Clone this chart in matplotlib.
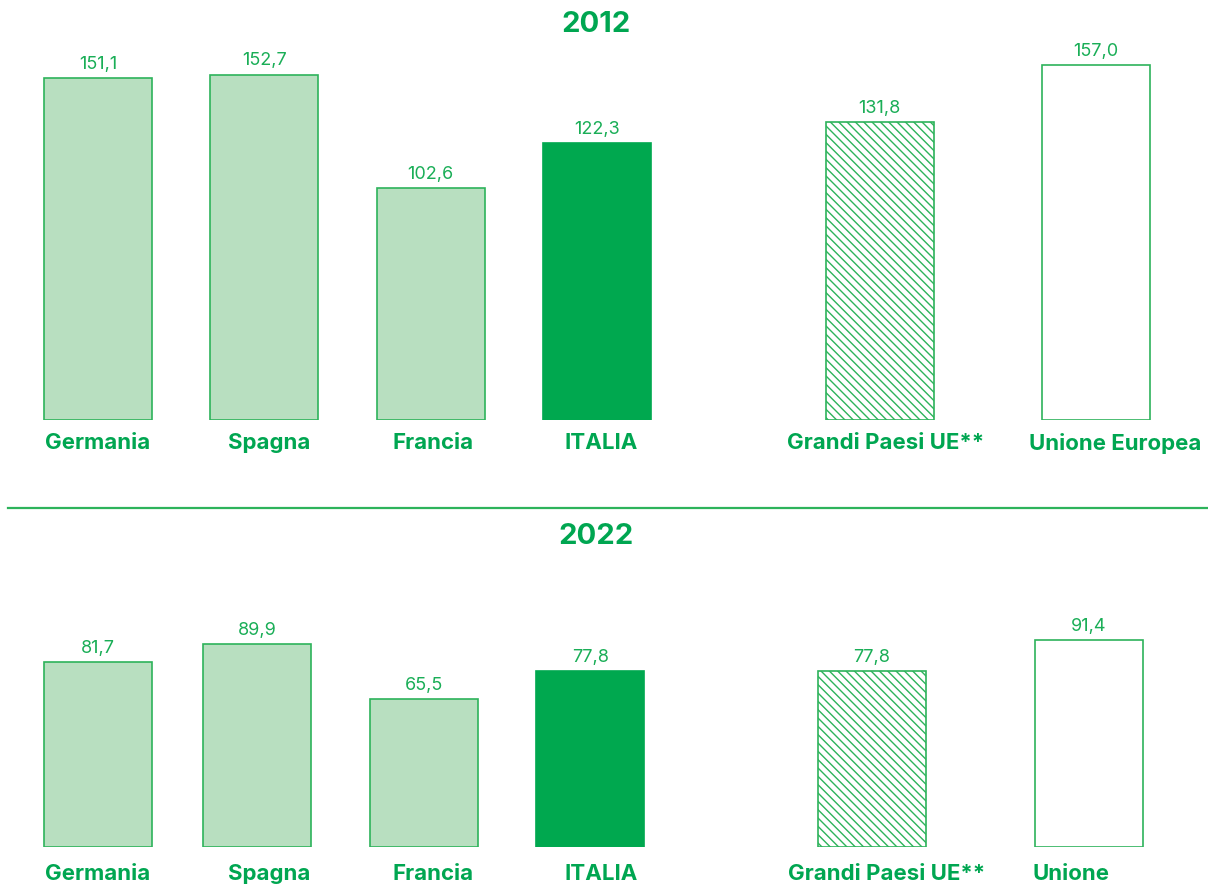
import matplotlib
matplotlib.use("Agg")
import matplotlib.pyplot as plt

# ---- data ----
categories_2012 = ["Germania", "Spagna", "Francia", "ITALIA", "Grandi Paesi UE**", "Unione Europea"]
categories_2022 = ["Germania", "Spagna", "Francia", "ITALIA", "Grandi Paesi UE**", "Unione\nEuropea"]
values_2012 = [151.1, 152.7, 102.6, 122.3, 131.8, 157.0]
values_2022 = [81.7, 89.9, 65.5, 77.8, 77.8, 91.4]
value_labels_2012 = ["151,1", "152,7", "102,6", "122,3", "131,8", "157,0"]
value_labels_2022 = ["81,7", "89,9", "65,5", "77,8", "77,8", "91,4"]
titles = ["2012", "2022"]

# ---- layout / style ----
bar_pos_top = [0, 1, 2, 3, 4.70, 6.0]
bar_pos_bot = [0, 0.956, 1.960, 2.959, 4.654, 5.959]
lab_pos_top = [0, 1.028, 2.014, 3.025, 4.733, 6.115]
lab_pos_bot = [0, 1.028, 2.014, 3.025, 4.739, 5.85]
bar_width = 0.65

DARK = "#00A84F"
LIGHT = "#B8DFC0"
EDGE = "#2DB35B"
TXT = "#00A651"
VAL = "#1AAE57"

styles = [
    dict(facecolor=LIGHT, edgecolor=EDGE, hatch=None),
    dict(facecolor=LIGHT, edgecolor=EDGE, hatch=None),
    dict(facecolor=LIGHT, edgecolor=EDGE, hatch=None),
    dict(facecolor=DARK, edgecolor=DARK, hatch=None),
    dict(facecolor="white", edgecolor=EDGE, hatch="\\\\\\\\"),
    dict(facecolor="white", edgecolor=EDGE, hatch=None),
]

plt.rcParams["font.family"] = ["Inter", "DejaVu Sans"]
plt.rcParams["hatch.linewidth"] = 1.0

W, H = 1208, 885
fig = plt.figure(figsize=(W / 100, H / 100), dpi=100)

px_per_unit = 166.3
x0 = 98
xlim = (-x0 / px_per_unit, (W - x0) / px_per_unit)
scale = 2.2625  # px per value unit


def panel(bottom_px, ymax, values, vlabels, cats, bpos, lpos, pad):
    h = ymax * scale
    ax = fig.add_axes([0, (H - bottom_px) / H, 1, h / H])
    ax.set_xlim(*xlim)
    ax.set_ylim(0, ymax)
    for v, lab, p, st in zip(values, vlabels, bpos, styles):
        ax.bar(p, v, width=bar_width, facecolor=st["facecolor"],
               edgecolor=st["edgecolor"], linewidth=1.2, hatch=st["hatch"])
        ax.annotate(lab, (p, v), xytext=(0, 6.5), textcoords="offset points",
                    ha="center", va="baseline", fontsize=13, color=VAL)
    ax.set_xticks(lpos)
    ax.set_xticklabels(cats, fontsize=16, fontweight="bold", color=TXT,
                       linespacing=1.3)
    ax.tick_params(axis="x", length=0, pad=pad)
    ax.set_yticks([])
    for s in ax.spines.values():
        s.set_visible(False)
    ax.patch.set_alpha(0)
    return ax


panel(420, 160, values_2012, value_labels_2012, categories_2012,
      bar_pos_top, lab_pos_top, 9.5)
panel(847, 100, values_2022, value_labels_2022, categories_2022,
      bar_pos_bot, lab_pos_bot, 12)

fig.text(596 / W, 1 - 25 / H, titles[0], ha="center", va="center",
         fontsize=21, fontweight="bold", color=TXT)
fig.text(596 / W, 1 - 537 / H, titles[1], ha="center", va="center",
         fontsize=21, fontweight="bold", color=TXT)
fig.add_artist(plt.Line2D([8 / W, 1], [1 - 507.5 / H] * 2, color=EDGE, lw=1.6,
                          transform=fig.transFigure))

fig.savefig("out.png", dpi=100)
